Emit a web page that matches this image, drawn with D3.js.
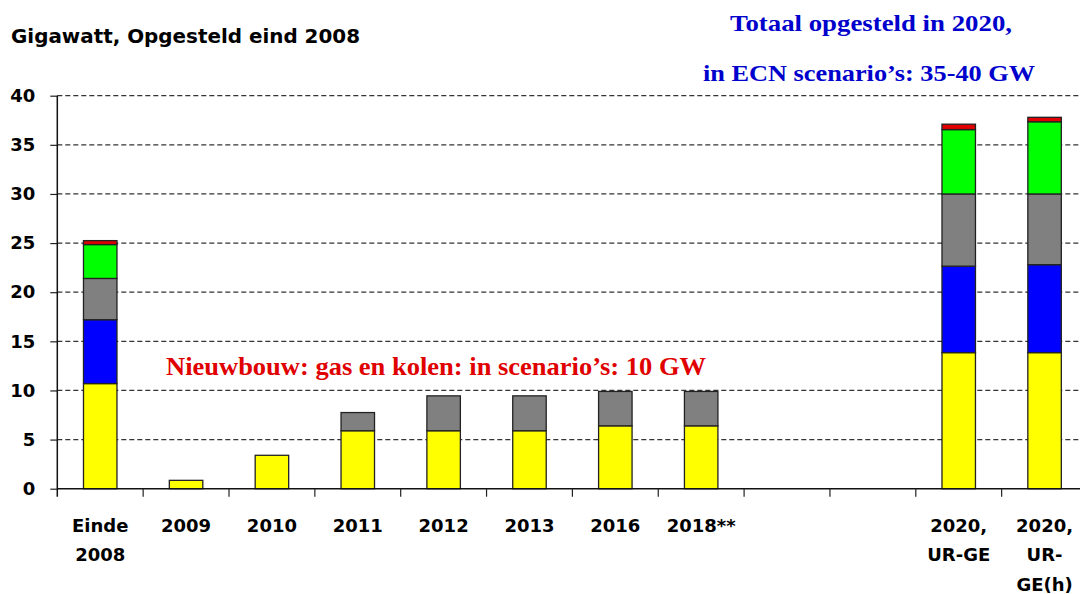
<!DOCTYPE html>
<html>
<head>
<meta charset="utf-8">
<script src="https://cdn.jsdelivr.net/npm/d3@7"></script>
<style>
  body { margin: 0; background: #fff; }
  svg { display: block; }
</style>
</head>
<body>
<div id="canvas"></div>
<script>
// Opgesteld vermogen (GW), gestapelde kolommen
const width = 1080, height = 594;

// slots on the x axis (two empty slots before 2020)
const categories = ["Einde 2008", "2009", "2010", "2011", "2012", "2013", "2016", "2018**",
                    "leeg1", "leeg2", "2020, UR-GE", "2020, UR-GE(h)"];
const tickLabels = [["Einde", "2008"], ["2009"], ["2010"], ["2011"], ["2012"], ["2013"],
                    ["2016"], ["2018**"], [], [], ["2020,", "UR-GE"], ["2020,", "UR-", "GE(h)"]];

// stack layers, bottom to top
const yellowValues = [10.7, 0.85, 3.4, 5.9, 5.9, 5.9, 6.4, 6.4, 0, 0, 13.85, 13.85];
const blueValues   = [6.5, 0, 0, 0, 0, 0, 0, 0, 0, 0, 8.8, 8.95];
const greyValues   = [4.2, 0, 0, 1.85, 3.55, 3.55, 3.5, 3.5, 0, 0, 7.35, 7.2];
const greenValues  = [3.45, 0, 0, 0, 0, 0, 0, 0, 0, 0, 6.55, 7.35];
const redValues    = [0.4, 0, 0, 0, 0, 0, 0, 0, 0, 0, 0.55, 0.45];

const yTicks = [0, 5, 10, 15, 20, 25, 30, 35, 40];

const layers = [
  { key: "geel",  values: yellowValues, color: "#ffff00" },
  { key: "blauw", values: blueValues,   color: "#0000ff" },
  { key: "grijs", values: greyValues,   color: "#808080" },
  { key: "groen", values: greenValues,  color: "#00ff00" },
  { key: "rood",  values: redValues,    color: "#e00000" }
];

const table = categories.map((c, i) => {
  const row = { cat: c };
  layers.forEach(l => { row[l.key] = l.values[i]; });
  return row;
});

const svg = d3.select("#canvas").append("svg")
  .attr("width", width).attr("height", height)
  .style("background", "#fff");

const x = d3.scaleBand().domain(categories).range([57.3, 1087.5]).padding(0);
const y = d3.scaleLinear().domain([0, 40]).range([488.7, 95.7]);

const sans = "'DejaVu Sans', sans-serif";
const serif = "'Liberation Serif', 'Times New Roman', serif";

// gridlines
svg.append("g").selectAll("line")
  .data(yTicks.filter(d => d > 0))
  .join("line")
  .attr("x1", 57.3).attr("x2", width)
  .attr("y1", d => y(d)).attr("y2", d => y(d))
  .attr("stroke", "#333").attr("stroke-width", 1.2)
  .attr("stroke-dasharray", "5,3");

// y axis
const yAxis = svg.append("g")
  .attr("transform", "translate(57.3,0)")
  .call(d3.axisLeft(y).tickValues(yTicks).tickSize(7).tickPadding(15));
yAxis.select(".domain").remove();
yAxis.append("line").attr("x1", 0).attr("x2", 0)
  .attr("y1", y(40)).attr("y2", y(0) + 8)
  .attr("stroke", "#111").attr("stroke-width", 1.5);
yAxis.selectAll(".tick line").attr("stroke", "#222").attr("stroke-width", 1.2);
yAxis.selectAll(".tick text")
  .attr("font-family", sans).attr("font-weight", "bold").attr("font-size", 18)
  .attr("fill", "#000");

// bars
const stacked = d3.stack().keys(layers.map(l => l.key))(table);
svg.append("g").selectAll("g")
  .data(stacked)
  .join("g")
  .attr("fill", (d, i) => layers[i].color)
  .selectAll("rect")
  .data(d => d.filter(p => p[1] - p[0] > 0))
  .join("rect")
  .attr("x", p => x(p.data.cat) + x.bandwidth() * 0.305)
  .attr("width", x.bandwidth() * 0.39)
  .attr("y", p => y(p[1]))
  .attr("height", p => y(p[0]) - y(p[1]))
  .attr("stroke", "#222").attr("stroke-width", 1.3);

// x axis line and boundary ticks
svg.append("line")
  .attr("x1", 57.3).attr("x2", width)
  .attr("y1", y(0)).attr("y2", y(0))
  .attr("stroke", "#111").attr("stroke-width", 1.5);
svg.append("g").selectAll("line")
  .data(categories.slice(1).concat(["einde"]))
  .join("line")
  .attr("x1", (d, i) => x(categories[0]) + (i + 1) * x.step())
  .attr("x2", (d, i) => x(categories[0]) + (i + 1) * x.step())
  .attr("y1", y(0)).attr("y2", y(0) + 8)
  .attr("stroke", "#222").attr("stroke-width", 1.2);

// x labels
svg.append("g").selectAll("text")
  .data(categories)
  .join("text")
  .attr("x", d => x(d) + x.bandwidth() / 2)
  .attr("y", 531.7)
  .attr("text-anchor", "middle")
  .attr("font-family", sans).attr("font-weight", "bold").attr("font-size", 18)
  .each(function (d, i) {
    d3.select(this).selectAll("tspan")
      .data(tickLabels[i])
      .join("tspan")
      .attr("x", x(d) + x.bandwidth() / 2)
      .attr("dy", (t, j) => j === 0 ? 0 : 29.5)
      .text(t => t);
  });

// title
svg.append("text")
  .attr("x", 11).attr("y", 43)
  .attr("font-family", sans).attr("font-weight", "bold").attr("font-size", 19.5)
  .attr("textLength", 349).attr("lengthAdjust", "spacingAndGlyphs")
  .text("Gigawatt, Opgesteld eind 2008");

// annotations
svg.append("text")
  .attr("x", 166).attr("y", 375)
  .attr("font-family", serif).attr("font-weight", "bold").attr("font-size", 25)
  .attr("fill", "#e00000")
  .attr("textLength", 540).attr("lengthAdjust", "spacingAndGlyphs")
  .text("Nieuwbouw: gas en kolen: in scenario’s: 10 GW");

svg.append("text")
  .attr("x", 730).attr("y", 31)
  .attr("font-family", serif).attr("font-weight", "bold").attr("font-size", 23.5)
  .attr("fill", "#0000cc")
  .attr("textLength", 282).attr("lengthAdjust", "spacingAndGlyphs")
  .text("Totaal opgesteld in 2020,");

svg.append("text")
  .attr("x", 703).attr("y", 81)
  .attr("font-family", serif).attr("font-weight", "bold").attr("font-size", 23.5)
  .attr("fill", "#0000cc")
  .attr("textLength", 332).attr("lengthAdjust", "spacingAndGlyphs")
  .text("in ECN scenario’s: 35-40 GW");
</script>
</body>
</html>
